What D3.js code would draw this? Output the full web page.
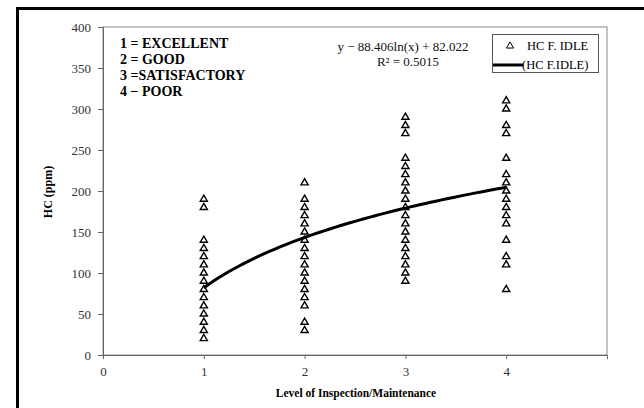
<!DOCTYPE html>
<html><head><meta charset="utf-8">
<script src="https://cdn.jsdelivr.net/npm/d3@7"></script>
<style>body{margin:0;background:#fff}svg{display:block}</style>
</head><body>
<script>
const levels = [1, 2, 3, 4];
const hcLevel1 = [190,180,140,130,120,110,100,90,80,70,60,50,40,30,20];
const hcLevel2 = [210,190,180,170,160,150,140,130,120,110,100,90,80,70,60,40,30];
const hcLevel3 = [290,280,270,240,230,220,210,200,190,180,170,160,150,140,130,120,110,100,90];
const hcLevel4 = [310,300,280,270,240,220,210,200,190,180,170,160,140,120,110,80];
const fitA = 88.406, fitB = 82.022;
const xTicks = [0,1,2,3,4];
const yTicks = [0,50,100,150,200,250,300,350,400];
const legendLines = ["1 = EXCELLENT","2 = GOOD","3 =SATISFACTORY","4 \u2212 POOR"];

const W=644,H=408;
const svg=d3.select("body").append("svg").attr("width",W).attr("height",H);
const L=103,R=607,T=27,B=355;
const x=d3.scaleLinear().domain([0,5]).range([L,R]);
const y=d3.scaleLinear().domain([0,400]).range([B,T]);
const serif="Liberation Serif, Times New Roman, serif";

// outer frame
svg.append("line").attr("x1",17).attr("x2",W).attr("y1",8.5).attr("y2",8.5).attr("stroke","#000").attr("stroke-width",3);
svg.append("line").attr("x1",17.5).attr("x2",17.5).attr("y1",7).attr("y2",H).attr("stroke","#000").attr("stroke-width",3);

// plot area
svg.append("rect").attr("x",L).attr("y",T).attr("width",R-L).attr("height",B-T).attr("fill","none").attr("stroke","#888").attr("stroke-width",1);

// y axis
const ya=svg.append("g").attr("transform",`translate(${L},0)`).call(d3.axisLeft(y).tickValues(yTicks).tickSize(5).tickPadding(7));
ya.select(".domain").attr("stroke","#666");
ya.selectAll(".tick line").attr("stroke","#666");
ya.selectAll("text").attr("font-family",serif).attr("font-size",13).attr("fill","#333");
// x axis
const xa=svg.append("g").attr("transform",`translate(0,${B})`).call(d3.axisBottom(x).tickValues(xTicks).tickSize(4).tickPadding(8).tickFormat(d3.format("d")));
xa.select(".domain").attr("stroke","#666");
xa.selectAll(".tick line").attr("stroke","#666");
xa.selectAll("text").attr("font-family",serif).attr("font-size",13).attr("fill","#333");

// points
const pts=[];
[hcLevel1,hcLevel2,hcLevel3,hcLevel4].forEach((arr,i)=>arr.forEach(v=>pts.push({x:levels[i],y:v})));
const tri=d3.symbol().type(d3.symbolTriangle).size(22);
svg.append("g").selectAll("path").data(pts).join("path")
  .attr("d",tri).attr("transform",d=>`translate(${x(d.x)},${y(d.y)})`)
  .attr("fill","none").attr("stroke","#000").attr("stroke-width",1.4);

// trend line
const fx=d3.range(1,4.0001,0.05);
svg.append("path").datum(fx).attr("fill","none").attr("stroke","#000").attr("stroke-width",3)
  .attr("d",d3.line().x(d=>x(d)).y(d=>y(fitA*Math.log(d)+fitB)));

// equation
const eq=svg.append("g").attr("font-family",serif).attr("font-size",13).attr("fill","#111");
eq.append("text").attr("x",403).attr("y",51).attr("text-anchor","middle").text("y \u2212 88.406ln(x) + 82.022");
eq.append("text").attr("x",408).attr("y",66).attr("text-anchor","middle").text("R\u00b2 = 0.5015");

// level legend
svg.append("g").selectAll("text").data(legendLines).join("text")
  .attr("x",120).attr("y",(d,i)=>48+i*16)
  .attr("font-family",serif).attr("font-weight","bold").attr("font-size",14)
  .text(d=>d);

// series legend
const lg=svg.append("g");
lg.append("rect").attr("x",492.5).attr("y",34.5).attr("width",106).attr("height",38).attr("fill","#fff").attr("stroke","#555");
lg.append("path").attr("d",tri).attr("transform","translate(510,46)").attr("fill","none").attr("stroke","#000").attr("stroke-width",1);
lg.append("text").attr("x",527).attr("y",50).attr("font-family",serif).attr("font-size",12.5).text("HC F. IDLE");
lg.append("line").attr("x1",493).attr("x2",523).attr("y1",65).attr("y2",65).attr("stroke","#000").attr("stroke-width",3);
lg.append("text").attr("x",522).attr("y",69).attr("font-family",serif).attr("font-size",12.5).text("(HC F.IDLE)");

// axis titles
svg.append("text").attr("transform","translate(52,192) rotate(-90)").attr("text-anchor","middle")
  .attr("font-family",serif).attr("font-weight","bold").attr("font-size",12).text("HC (ppm)");
svg.append("text").attr("x",356).attr("y",397).attr("text-anchor","middle")
  .attr("font-family",serif).attr("font-weight","bold").attr("font-size",11.5).text("Level of Inspection/Maintenance");
</script>
</body></html>
